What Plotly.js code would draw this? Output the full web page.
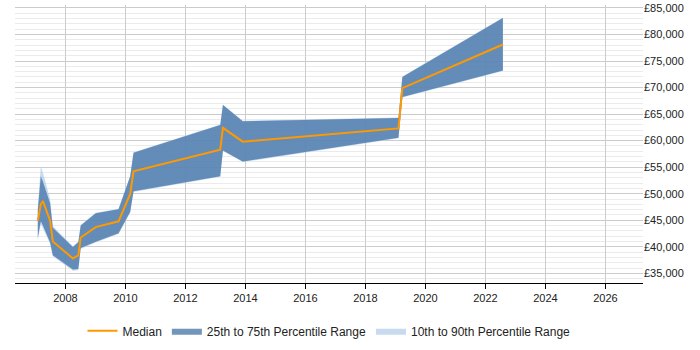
<!DOCTYPE html>
<html>
<head>
<meta charset="utf-8">
<script src="https://cdn.plot.ly/plotly-3.0.1.min.js"></script>
<style>html,body{margin:0;padding:0;background:#fff;}#chart{width:700px;height:350px;}</style>
</head>
<body>
<div id="chart"></div>
<script>
var years = [2007.08, 2007.18, 2007.25, 2007.49, 2007.58, 2008.25, 2008.43, 2008.51, 2009.01, 2009.77, 2010.16, 2010.27, 2013.16, 2013.25, 2013.91, 2019.10, 2019.23, 2022.58];
var median = [44900, 48000, 48600, 44900, 41000, 37800, 38400, 41750, 43700, 44800, 49950, 54200, 58300, 62400, 59800, 62300, 69900, 78100];
var p25 = [41750, 44800, 44000, 40800, 38400, 35700, 35800, 39750, 40950, 42550, 46600, 50450, 53300, 58150, 56050, 60550, 68200, 73200];
var p75 = [46900, 53300, 52300, 48200, 43600, 39950, 40850, 44000, 46300, 47050, 53300, 57700, 62950, 66700, 63650, 64250, 72000, 83100];
var p10 = [41200, 44300, 43500, 40500, 38200, 35500, 35600, 39600, 40800, 42400, 46400, 50300, 53200, 58050, 55950, 60450, 68100, 73100];
var p90 = [47600, 55100, 54000, 49000, 43900, 40100, 41000, 44100, 46400, 47150, 53400, 57800, 63050, 66800, 63750, 64350, 72100, 83200];

var darkFill = 'rgba(67,113,166,0.75)';
var lightFill = 'rgba(180,206,232,0.75)';

var traces = [
  {x: years, y: p10, type: 'scatter', mode: 'lines', line: {width: 0, color: lightFill}, showlegend: false, hoverinfo: 'skip'},
  {x: years, y: p90, type: 'scatter', mode: 'lines', fill: 'tonexty', fillcolor: lightFill, line: {width: 0, color: lightFill}, name: '10th to 90th Percentile Range', legendrank: 3, hoverinfo: 'skip'},
  {x: years, y: p25, type: 'scatter', mode: 'lines', line: {width: 0, color: darkFill}, showlegend: false, hoverinfo: 'skip'},
  {x: years, y: p75, type: 'scatter', mode: 'lines', fill: 'tonexty', fillcolor: darkFill, line: {width: 0, color: darkFill}, name: '25th to 75th Percentile Range', legendrank: 2, hoverinfo: 'skip'},
  {x: years, y: median, type: 'scatter', mode: 'lines', line: {width: 2, color: '#FF9900'}, name: 'Median', legendrank: 1}
];

var layout = {
  width: 700, height: 350,
  margin: {l: 15, r: 57, t: 5, b: 58},
  paper_bgcolor: '#fff', plot_bgcolor: '#fff',
  font: {family: 'Liberation Sans, Arial, sans-serif', size: 11, color: '#222'},
  showlegend: true,
  legend: {orientation: 'h', x: 0.5, xanchor: 'center', y: -0.12, yanchor: 'top', itemwidth: 30, font: {size: 12, color: '#222'}, traceorder: 'normal'},
  xaxis: {
    range: [2006.32, 2027.25], tick0: 2008, dtick: 2, tickmode: 'linear',
    showgrid: true, gridcolor: '#cccccc', gridwidth: 1,
    showline: true, linecolor: '#000', linewidth: 1,
    ticks: 'outside', ticklen: 5, tickcolor: '#000',
    zeroline: false, tickfont: {size: 11, color: '#222'}
  },
  yaxis: {
    side: 'right', range: [33175, 85550], tick0: 35000, dtick: 5000, tickmode: 'linear',
    tickprefix: '£', tickformat: ',d',
    showgrid: true, gridcolor: '#cccccc', gridwidth: 1,
    minor: {dtick: 1000, showgrid: true, gridcolor: '#ebebeb', gridwidth: 1},
    showline: false, zeroline: false, ticks: '', ticklen: 0,
    tickfont: {size: 11, color: '#222'}
  }
};

Plotly.newPlot('chart', traces, layout, {staticPlot: true, displayModeBar: false});
</script>
</body>
</html>
